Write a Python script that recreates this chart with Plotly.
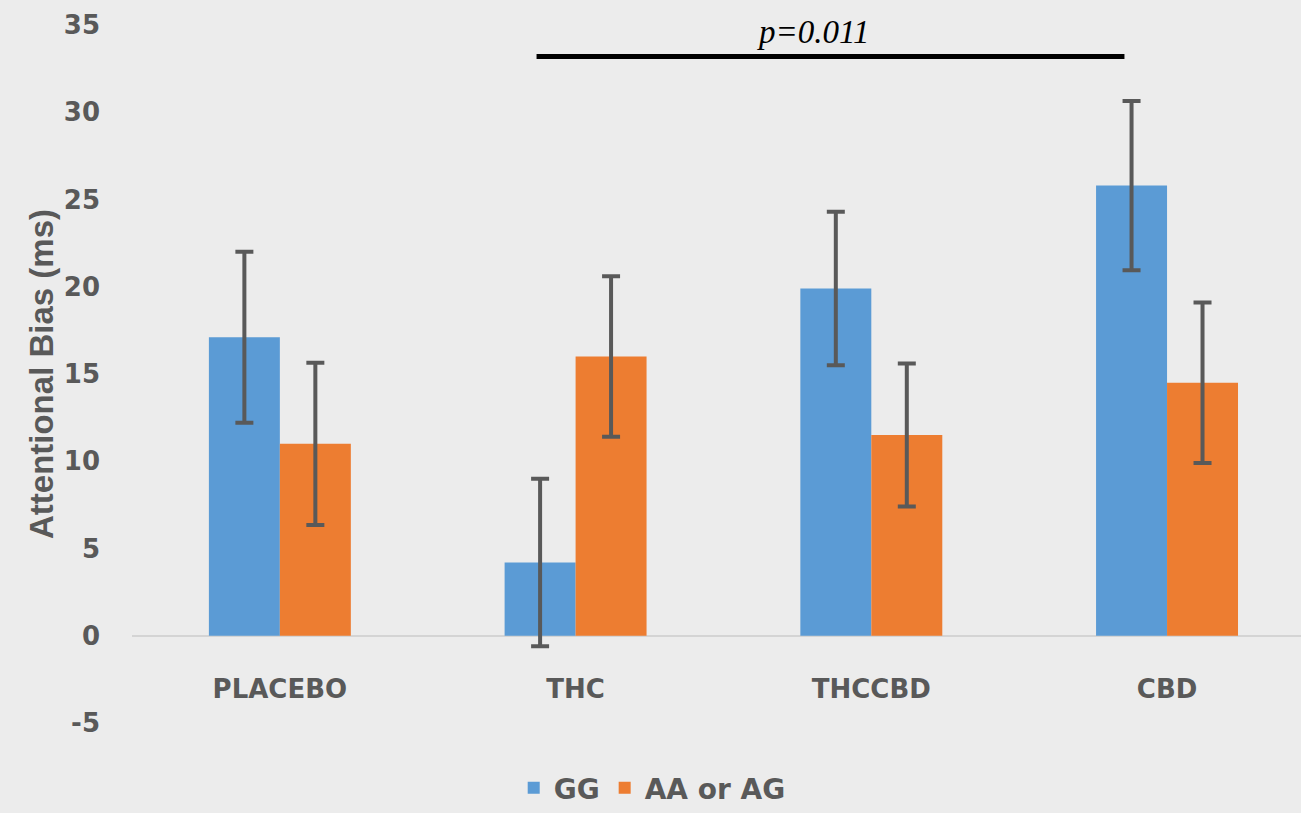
import plotly.graph_objects as go

categories = ["PLACEBO", "THC", "THCCBD", "CBD"]
gg_values = [17.1, 4.2, 19.9, 25.8]
gg_errors = [4.9, 4.8, 4.4, 4.85]
aa_values = [11.0, 16.0, 11.5, 14.5]
aa_errors = [4.65, 4.6, 4.1, 4.6]
y_ticks = [-5, 0, 5, 10, 15, 20, 25, 30, 35]
p_label = "p=0.011"

BLUE = "#5b9bd5"
ORANGE = "#ed7d31"
GREY = "#595959"
BG = "#ececec"

fig = go.Figure()
fig.add_trace(go.Bar(
    name="GG", x=categories, y=gg_values, marker_color=BLUE, marker_line_width=0,
    error_y=dict(type="data", array=gg_errors, color=GREY, thickness=4, width=9),
))
fig.add_trace(go.Bar(
    name="AA or AG", x=categories, y=aa_values, marker_color=ORANGE, marker_line_width=0,
    error_y=dict(type="data", array=aa_errors, color=GREY, thickness=4, width=9),
))

# significance bar between THC and CBD
fig.add_shape(type="line", xref="x", yref="y", x0=0.868, x1=2.856, y0=33.19, y1=33.19,
              line=dict(color="black", width=5))
fig.add_annotation(xref="x", yref="y", x=1.804, y=34.6, text="<i>" + p_label + "</i>",
                   showarrow=False, yanchor="middle",
                   font=dict(family="Liberation Serif", size=33, color="black"))

fig.update_layout(
    width=1301, height=813,
    paper_bgcolor=BG, plot_bgcolor=BG,
    margin=dict(l=132, r=0, t=25, b=90),
    barmode="group", bargap=0.52, bargroupgap=0,
    showlegend=True,
    legend=dict(orientation="h", x=0.445, xanchor="center", yref="container", y=0.0,
                yanchor="bottom",
                font=dict(family="DejaVu Sans", size=28, color=GREY, weight="bold"),
                itemwidth=30, traceorder="normal", bgcolor="rgba(0,0,0,0)"),
)
fig.update_xaxes(
    type="category", range=[-0.5, 3.453], showgrid=False, showline=False, zeroline=False,
    ticks="", anchor="free", position=0.075,
    tickfont=dict(family="DejaVu Sans", size=26, color=GREY, weight="bold"),
)
fig.update_yaxes(
    range=[-5, 35], tickvals=y_ticks, ticktext=[str(v) for v in y_ticks],
    showgrid=False, showline=False,
    zeroline=True, zerolinecolor="#d4d4d4", zerolinewidth=2,
    ticks="", ticklabelstandoff=31,
    tickfont=dict(family="DejaVu Sans", size=26, color=GREY, weight="bold"),
    title=dict(text="<b>Attentional Bias (ms)</b>", standoff=0,
               font=dict(family="Liberation Sans", size=33, color=GREY)),
)

fig.write_html("out.html", config={"displayModeBar": False},
               post_script="document.body.style.margin='0';")
